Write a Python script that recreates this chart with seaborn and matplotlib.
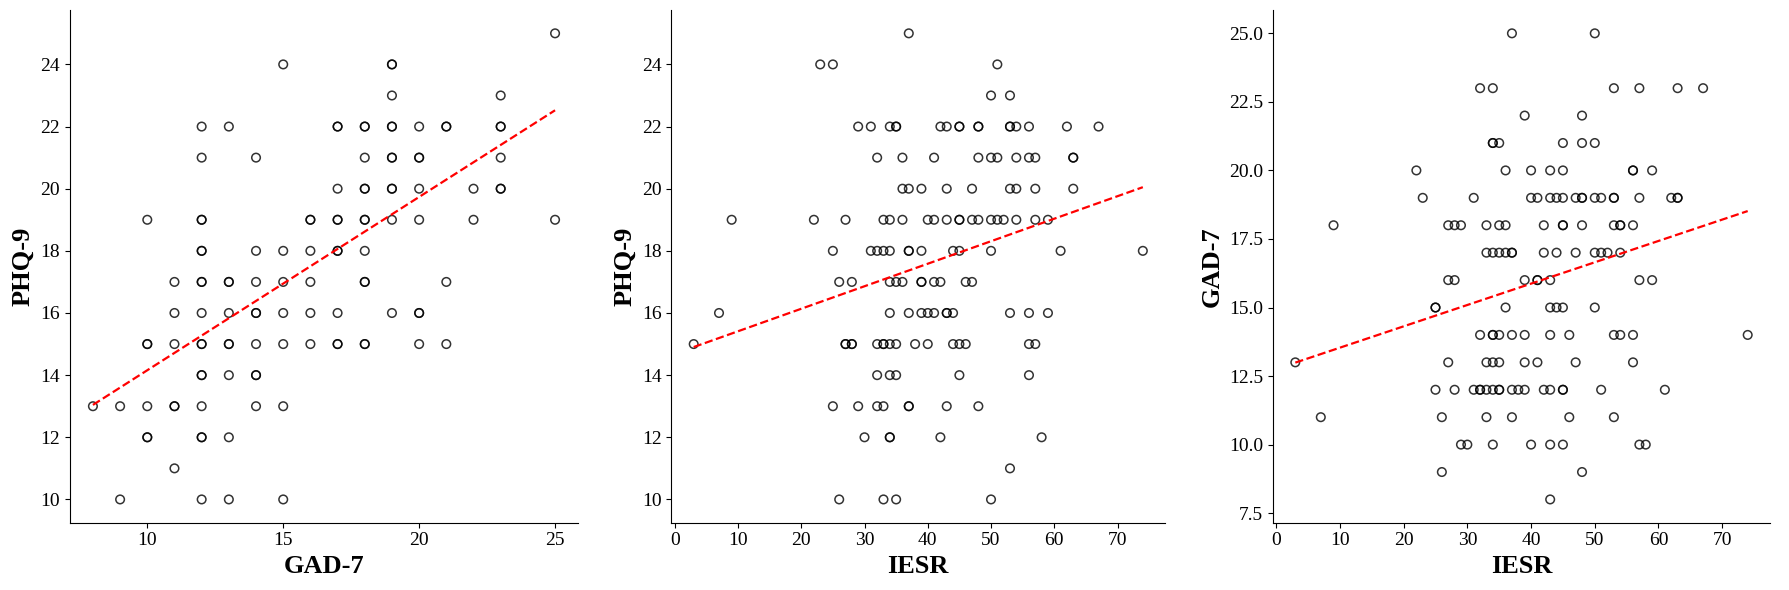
import matplotlib
matplotlib.use("Agg")
import matplotlib.pyplot as plt
from matplotlib.ticker import MultipleLocator
import seaborn as sns
import pandas as pd

# panel 1: GAD-7 vs PHQ-9 (one line per PHQ-9 level, from 25 down to 10)
gad7_p1 = [25,
           15, 19, 19,
           19, 23,
           12, 13, 17, 17, 18, 18, 19, 19, 20, 21, 21, 23, 23,
           12, 14, 18, 19, 19, 20, 20, 23,
           17, 18, 18, 19, 19, 20, 22, 23, 23,
           10, 12, 12, 16, 16, 17, 17, 18, 18, 19, 20, 22, 25,
           12, 12, 14, 15, 16, 17, 17, 18,
           11, 12, 12, 13, 13, 14, 15, 16, 18, 18, 21,
           11, 12, 13, 14, 14, 15, 16, 17, 19, 20, 20,
           10, 10, 11, 12, 12, 13, 13, 14, 15, 16, 17, 17, 18, 18, 20, 21,
           12, 12, 13, 14, 14,
           8, 9, 10, 11, 11, 12, 14, 15,
           10, 10, 12, 12, 13,
           11,
           9, 12, 13, 15]
phq9_p1 = [25,
           24, 24, 24,
           23, 23,
           22, 22, 22, 22, 22, 22, 22, 22, 22, 22, 22, 22, 22,
           21, 21, 21, 21, 21, 21, 21, 21,
           20, 20, 20, 20, 20, 20, 20, 20, 20,
           19, 19, 19, 19, 19, 19, 19, 19, 19, 19, 19, 19, 19,
           18, 18, 18, 18, 18, 18, 18, 18,
           17, 17, 17, 17, 17, 17, 17, 17, 17, 17, 17,
           16, 16, 16, 16, 16, 16, 16, 16, 16, 16, 16,
           15, 15, 15, 15, 15, 15, 15, 15, 15, 15, 15, 15, 15, 15, 15, 15,
           14, 14, 14, 14, 14,
           13, 13, 13, 13, 13, 13, 13, 13,
           12, 12, 12, 12, 12,
           11,
           10, 10, 10, 10]

# panel 2: IESR vs PHQ-9
iesr_p2 = [37,
           23, 25, 51,
           50, 53,
           29, 31, 34, 35, 35, 42, 43, 45, 45, 48, 48, 53, 53, 54, 56, 62, 67,
           32, 36, 41, 48, 50, 51, 54, 56, 57, 63, 63,
           36, 37, 39, 43, 47, 53, 54, 57, 63,
           9, 22, 27, 33, 34, 36, 40, 41, 43, 45, 45, 47, 48, 50, 51, 52, 54, 57, 59,
           25, 31, 32, 33, 34, 37, 37, 39, 44, 45, 50, 61, 74,
           26, 28, 34, 35, 36, 39, 39, 41, 42, 46, 47,
           7, 34, 37, 39, 40, 41, 43, 43, 44, 53, 56, 59,
           3, 27, 27, 28, 28, 32, 33, 33, 34, 35, 38, 40, 44, 45, 46, 56, 57,
           32, 34, 35, 45, 56,
           25, 29, 32, 33, 37, 37, 43, 48,
           30, 34, 34, 42, 58,
           53,
           26, 33, 35, 50]
phq9_p2 = [25,
           24, 24, 24,
           23, 23,
           22, 22, 22, 22, 22, 22, 22, 22, 22, 22, 22, 22, 22, 22, 22, 22, 22,
           21, 21, 21, 21, 21, 21, 21, 21, 21, 21, 21,
           20, 20, 20, 20, 20, 20, 20, 20, 20,
           19, 19, 19, 19, 19, 19, 19, 19, 19, 19, 19, 19, 19, 19, 19, 19, 19, 19, 19,
           18, 18, 18, 18, 18, 18, 18, 18, 18, 18, 18, 18, 18,
           17, 17, 17, 17, 17, 17, 17, 17, 17, 17, 17,
           16, 16, 16, 16, 16, 16, 16, 16, 16, 16, 16, 16,
           15, 15, 15, 15, 15, 15, 15, 15, 15, 15, 15, 15, 15, 15, 15, 15, 15,
           14, 14, 14, 14, 14,
           13, 13, 13, 13, 13, 13, 13, 13,
           12, 12, 12, 12, 12,
           11,
           10, 10, 10, 10]

# panel 3: IESR vs GAD-7
iesr_p3 = [37, 50,
           32, 34, 53, 57, 63, 67,
           39, 48,
           34, 34, 35, 45, 48, 50,
           22, 36, 40, 43, 45, 56, 56, 59,
           23, 31, 40, 41, 43, 44, 45, 47, 48, 48, 50, 51, 53, 53, 57, 62, 63, 63,
           9, 27, 28, 29, 33, 35, 36, 42, 45, 45, 48, 53, 54, 54, 56,
           33, 34, 35, 36, 37, 37, 42, 44, 47, 50, 51, 52, 54,
           27, 28, 39, 41, 41, 43, 57, 59,
           25, 25, 36, 43, 44, 45, 50,
           32, 34, 34, 35, 37, 39, 43, 46, 53, 54, 56, 74,
           3, 27, 33, 34, 35, 39, 41, 47, 56,
           25, 28, 31, 32, 32, 33, 34, 35, 35, 37, 38, 39, 42, 43, 45, 45, 51, 61,
           7, 26, 33, 37, 46, 53,
           29, 30, 34, 40, 43, 45, 57, 58,
           26, 48,
           43]
gad7_p3 = [25, 25,
           23, 23, 23, 23, 23, 23,
           22, 22,
           21, 21, 21, 21, 21, 21,
           20, 20, 20, 20, 20, 20, 20, 20,
           19, 19, 19, 19, 19, 19, 19, 19, 19, 19, 19, 19, 19, 19, 19, 19, 19, 19,
           18, 18, 18, 18, 18, 18, 18, 18, 18, 18, 18, 18, 18, 18, 18,
           17, 17, 17, 17, 17, 17, 17, 17, 17, 17, 17, 17, 17,
           16, 16, 16, 16, 16, 16, 16, 16,
           15, 15, 15, 15, 15, 15, 15,
           14, 14, 14, 14, 14, 14, 14, 14, 14, 14, 14, 14,
           13, 13, 13, 13, 13, 13, 13, 13, 13,
           12, 12, 12, 12, 12, 12, 12, 12, 12, 12, 12, 12, 12, 12, 12, 12, 12, 12,
           11, 11, 11, 11, 11, 11,
           10, 10, 10, 10, 10, 10, 10, 10,
           9, 9,
           8]

sns.set_style("ticks")
plt.rcParams["font.family"] = ["Liberation Serif", "DejaVu Serif"]
plt.rcParams["xtick.labelsize"] = 14
plt.rcParams["ytick.labelsize"] = 14
plt.rcParams["xtick.color"] = "black"
plt.rcParams["ytick.color"] = "black"
plt.rcParams["axes.edgecolor"] = "black"
plt.rcParams["axes.labelcolor"] = "black"

fig = plt.figure(figsize=(17.9, 5.9), dpi=100)
axes = [fig.add_axes([0.039, 0.114, 0.284, 0.869]),
        fig.add_axes([0.375, 0.114, 0.276, 0.869]),
        fig.add_axes([0.711, 0.114, 0.278, 0.869])]

panels = [
    (pd.DataFrame({"GAD-7": gad7_p1, "PHQ-9": phq9_p1}), "GAD-7", "PHQ-9"),
    (pd.DataFrame({"IESR": iesr_p2, "PHQ-9": phq9_p2}), "IESR", "PHQ-9"),
    (pd.DataFrame({"IESR": iesr_p3, "GAD-7": gad7_p3}), "IESR", "GAD-7"),
]

for ax, (df, xcol, ycol) in zip(axes, panels):
    sns.regplot(
        data=df, x=xcol, y=ycol, ax=ax, ci=None,
        scatter_kws={"facecolors": "none", "edgecolors": "black", "s": 38, "linewidths": 1.1},
        line_kws={"color": "red", "linestyle": "--", "linewidth": 1.6},
    )
    ax.set_xlabel(xcol, fontsize=19, fontweight="bold")
    ax.set_ylabel(ycol, fontsize=19, fontweight="bold")
    sns.despine(ax=ax)

axes[0].xaxis.set_major_locator(MultipleLocator(5))

fig.savefig("out.png", dpi=100)
